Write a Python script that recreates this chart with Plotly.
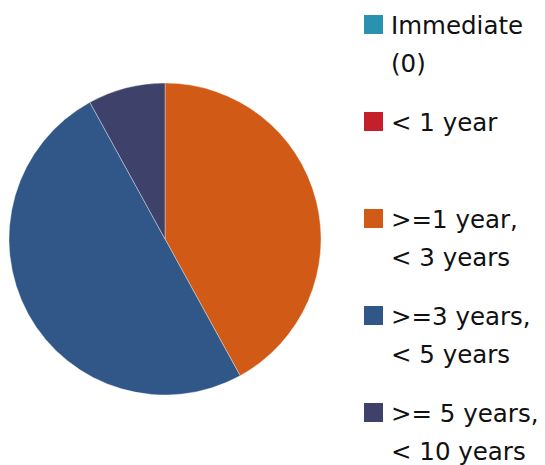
import plotly.graph_objects as go

W, H = 545, 465
OFF = 8  # browser default body margin
FW, FH = W - OFF, H - OFF

categories = ["Immediate (0)", "< 1 year", ">=1 year, < 3 years", ">=3 years, < 5 years", ">= 5 years, < 10 years"]
legend_lines = [["Immediate", "(0)"], ["< 1 year"], [">=1 year,", "< 3 years"],
                [">=3 years,", "< 5 years"], [">= 5 years,", "< 10 years"]]
values = [0, 0, 42, 50, 8]
colors = ["#2A91B0", "#C41F2A", "#D05A16", "#305788", "#3E4169"]

FONT = "DejaVu Sans, Verdana, sans-serif"

def px(x):
    return (x - OFF) / FW

def py(y):
    return 1 - (y - OFF) / FH

fig = go.Figure(go.Pie(
    labels=categories,
    values=values,
    sort=False,
    direction="clockwise",
    rotation=0,
    marker=dict(colors=colors, line=dict(color="rgba(255,255,255,0.6)", width=0.6)),
    textinfo="none",
    hoverinfo="label+percent",
    showlegend=False,
    domain=dict(x=[px(9), px(321)], y=[py(395), py(83)]),
))

shapes = []
annotations = []
first_y = 24.5
step = 97
line2 = 38
for i, (lines, c) in enumerate(zip(legend_lines, colors)):
    yc = first_y + i * step
    shapes.append(dict(type="rect", xref="paper", yref="paper",
                       x0=px(364), x1=px(383), y0=py(yc + 9.5), y1=py(yc - 9.5),
                       fillcolor=c, line=dict(width=0)))
    for j, t in enumerate(lines):
        annotations.append(dict(text=t, xref="paper", yref="paper",
                                x=px(389), y=py(yc + j * line2 + 1), xanchor="left", yanchor="middle",
                                showarrow=False, font=dict(family=FONT, size=24.5, color="#111111")))

fig.update_layout(
    width=FW, height=FH,
    margin=dict(l=0, r=0, t=0, b=0),
    paper_bgcolor="white", plot_bgcolor="white",
    shapes=shapes, annotations=annotations,
)

fig.write_html("out.html")
